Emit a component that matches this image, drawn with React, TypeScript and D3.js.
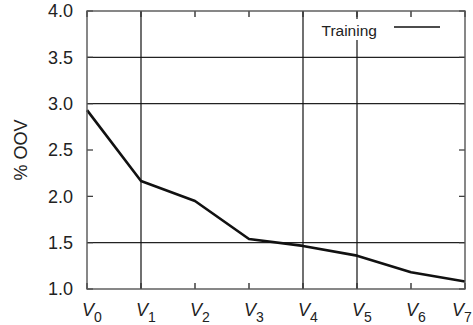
import React from "react";
import * as d3 from "d3";

const categories = ["0", "1", "2", "3", "4", "5", "6", "7"];
const trainingValues = [2.93, 2.165, 1.95, 1.54, 1.465, 1.36, 1.18, 1.08];
const yTicks = [1.0, 1.5, 2.0, 2.5, 3.0, 3.5, 4.0];
const yGridValues = [1.5, 3.0, 3.5];
const xGridIdx = [1, 4, 5];
const seriesName = "Training";
const yLabel = "% OOV";

export default function App() {
  const W = 473, H = 325;
  const left = 87, right = 465, top = 11, bottom = 289;
  const x = d3.scaleLinear().domain([0, categories.length - 1]).range([left, right]);
  const y = d3.scaleLinear().domain([1, 4]).range([bottom, top]);
  const line = d3.line<number>().x((_, i) => x(i)).y((d) => y(d));
  const font = "'Liberation Sans', Arial, Helvetica, sans-serif";
  const tl = 6;
  const n = categories.length;
  return (
    <svg width={W} height={H} style={{ position: "absolute", left: 0, top: 0 }} fontFamily={font}>
      <rect width={W} height={H} fill="white" />
      {/* grid */}
      {yGridValues.map((v) => (
        <line key={"gy" + v} x1={left} x2={right} y1={y(v)} y2={y(v)} stroke="#222" strokeWidth={1.2} />
      ))}
      {xGridIdx.map((i) => (
        <line key={"gx" + i} x1={x(i)} x2={x(i)} y1={top} y2={bottom} stroke="#111" strokeWidth={1.2} />
      ))}
      {/* ticks */}
      {yTicks.map((v) => (
        <g key={"ty" + v}>
          <line x1={left} x2={left + tl} y1={y(v)} y2={y(v)} stroke="#333" strokeWidth={1.2} />
          <line x1={right} x2={right - tl} y1={y(v)} y2={y(v)} stroke="#333" strokeWidth={1.2} />
          <text x={73} y={y(v)} dy="0.36em" textAnchor="end" fontSize={18} fill="#222">
            {v.toFixed(1)}
          </text>
        </g>
      ))}
      {categories.map((c, i) => (
        <g key={"tx" + c}>
          <line x1={x(i)} x2={x(i)} y1={bottom} y2={bottom - tl} stroke="#333" strokeWidth={1.4} />
          <line x1={x(i)} x2={x(i)} y1={top} y2={top + tl} stroke="#333" strokeWidth={1.4} />
          <text x={i === n - 1 ? W - 21 : x(i) - 5} y={316} fontSize={18} fill="#222">
            <tspan fontStyle="italic">V</tspan>
            <tspan fontSize={14} dy={5.5}>{c}</tspan>
          </text>
        </g>
      ))}
      {/* legend */}
      <rect x={318} y={19} width={63} height={21} fill="white" />
      <text x={321.5} y={36} fontSize={15.5} fill="#222">{seriesName}</text>
      <line x1={394} x2={440} y1={27} y2={27} stroke="#111" strokeWidth={1.5} />
      {/* data */}
      <path d={line(trainingValues) || ""} fill="none" stroke="#111" strokeWidth={2.6} strokeLinejoin="round" />
      {/* border */}
      <rect x={left} y={top} width={right - left} height={bottom - top} fill="none" stroke="#555" strokeWidth={1.4} />
      <text transform={`translate(27,${(top + bottom) / 2}) rotate(-90)`} textAnchor="middle" fontSize={18} fill="#222">
        {yLabel}
      </text>
    </svg>
  );
}
